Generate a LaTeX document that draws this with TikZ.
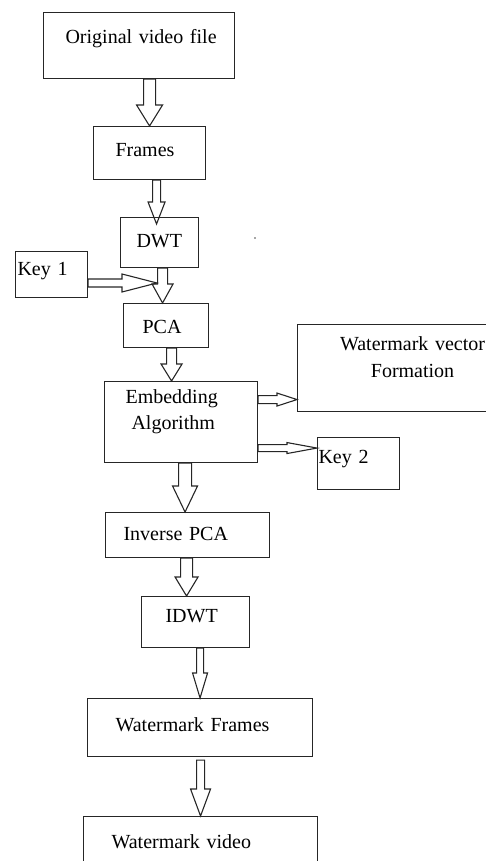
\documentclass[tikz,border=0pt]{standalone}
\usepackage{fontspec}
\setmainfont{Liberation Serif}
\usetikzlibrary{calc}

\newcommand{\blockarrow}[5]{%
  \coordinate (ba-s) at (#1);
  \coordinate (ba-e) at (#2);
  \coordinate (ba-h) at ($(ba-e)!#5!(ba-s)$);
  \draw[hollow] ($(ba-s)!#3!90:(ba-e)$) -- ($(ba-h)!#3!90:(ba-e)$) -- ($(ba-h)!#4!90:(ba-e)$)
    -- (ba-e) -- ($(ba-h)!#4!-90:(ba-e)$) -- ($(ba-h)!#3!-90:(ba-e)$) -- ($(ba-s)!#3!-90:(ba-e)$) -- cycle;
}

\begin{document}
\begin{tikzpicture}[
    x=1pt, y=-1pt,
    block/.style={draw=black!85, line width=1.1pt, inner sep=0pt, anchor=north west, align=left, font=\fontsize{20pt}{26pt}\selectfont},
    hollow/.style={draw=black!85, line width=1.1pt, line join=miter}
]
    \useasboundingbox (0,0) rectangle (486,861);
    \clip (0,0) rectangle (486,861);

    \node[block, text width=191pt, text height=31pt, text depth=35pt] (orig) at (43,12) {\hspace*{22pt}Original video file};
    \node[block, text width=112pt, text height=30pt, text depth=23pt] (frames) at (93,126) {\hspace*{22pt}Frames};
    \node[block, text width=78pt, text height=30pt, text depth=20pt] (dwt) at (120,217) {\hspace*{16pt}DWT};
    \node[block, text width=72pt, text height=24pt, text depth=22pt] (key1) at (15,251) {\hspace*{2pt}Key 1};
    \node[block, text width=85pt, text height=30pt, text depth=14pt] (pca) at (123,303) {\hspace*{19pt}PCA};
    \node[block, text width=153pt, text height=22pt, text depth=59pt] (emb) at (104,381) {\hspace*{21pt}Embedding\\\hspace*{27pt}Algorithm};
    \node[block, align=center, text width=230pt, text height=26pt, text depth=61pt, font=\fontsize{20pt}{27pt}\selectfont] (wvf) at (297,324) {Watermark vector\\Formation};
    \node[block, text width=82pt, text height=26pt, text depth=26pt] (key2) at (317,437) {\hspace*{1pt}Key 2};
    \node[block, text width=164pt, text height=28pt, text depth=17pt] (invpca) at (105,512) {\hspace*{18pt}Inverse PCA};
    \node[block, text width=108pt, text height=26pt, text depth=25pt] (idwt) at (141,596) {\hspace*{24pt}IDWT};
    \node[block, text width=225pt, text height=33pt, text depth=25pt] (wf) at (87,698) {\hspace*{28pt}Watermark Frames};
    \node[block, text width=234pt, text height=32pt, text depth=27pt] (wv) at (83,816) {\hspace*{28pt}Watermark video};

    \coordinate (join) at (157,283);
    \fill[black!70] (255,238) circle (0.8pt);

    \blockarrow{frames.north |- orig.south}{frames.north}{6pt}{13pt}{21pt}
    \blockarrow{$(frames.south)+(7,0)$}{$(dwt.north)+(-3,7)$}{4pt}{8.5pt}{22pt}
    \blockarrow{$(dwt.south)+(3,0)$}{$(pca.north)+(-3.5,0)$}{5pt}{10.5pt}{19pt}
    \blockarrow{key1.east |- join}{join}{4pt}{9pt}{35pt}
    \blockarrow{$(pca.south)+(5.5,0)$}{$(emb.north)+(-9.5,0)$}{5pt}{10.5pt}{17pt}
    \blockarrow{$(emb.east)+(0,-22.5)$}{$(wvf.west)+(0,31.5)$}{4pt}{6.5pt}{20pt}
    \blockarrow{$(emb.east)+(0,26)$}{$(key2.west)+(0,-15.5)$}{3.5pt}{5.5pt}{30pt}
    \blockarrow{$(emb.south)+(4,0)$}{$(invpca.north)+(-2.5,0)$}{6.5pt}{12.5pt}{26pt}
    \blockarrow{$(invpca.south)+(-1,0)$}{$(idwt.north)+(-9,0)$}{6pt}{11.5pt}{19pt}
    \blockarrow{wf.north |- idwt.south}{wf.north}{3.5pt}{7.5pt}{25pt}
    \blockarrow{$(wv.north |- wf.south)+(0,3)$}{wv.north}{4pt}{10pt}{27pt}
\end{tikzpicture}
\end{document}
